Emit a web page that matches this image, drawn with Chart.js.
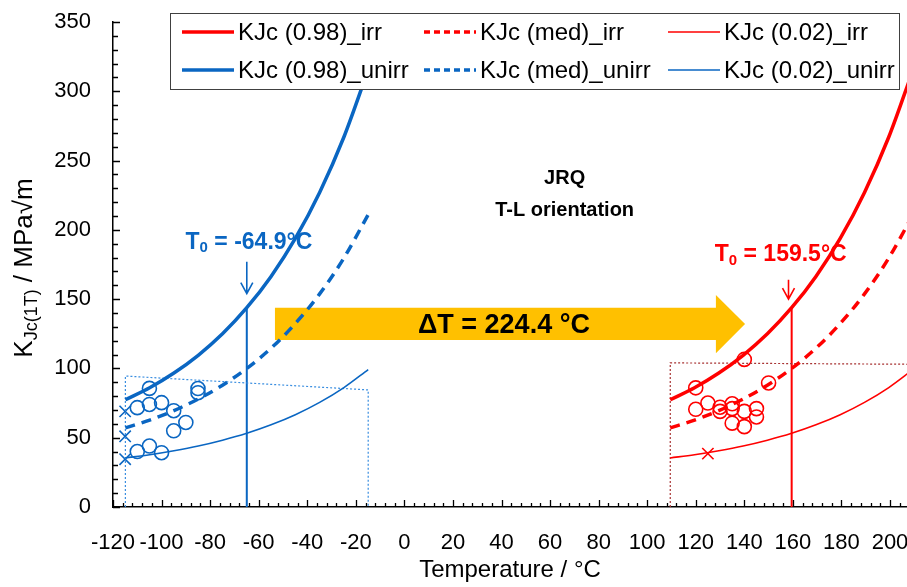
<!DOCTYPE html>
<html>
<head>
<meta charset="utf-8">
<script src="https://cdn.jsdelivr.net/npm/chart.js@4"></script>
<style>
  html, body { margin: 0; padding: 0; background: #fff; }
  #myChart { display: block; }
</style>
</head>
<body>
<canvas id="myChart" width="907" height="587"></canvas>
<script>
const CHART = document.getElementById('myChart');
const FONT = '"Liberation Sans", Arial, sans-serif';

// master curve points (T0 - 50 ... T0 + 50, every 10 °C)
const tempUnirr = [-114.9, -104.9, -94.9, -84.9, -74.9, -64.9, -54.9, -44.9, -34.9, -24.9, -14.9];
const tempIrr = [109.5, 119.5, 129.5, 139.5, 149.5, 159.5, 169.5, 179.5, 189.5, 199.5, 209.5];
const kjc098 = [77.4, 86.1, 96.7, 109.5, 125.0, 143.8, 166.4, 193.8, 227.0, 267.0, 315.5];
const kjcMed = [57.1, 62.7, 69.6, 77.9, 87.9, 100.0, 114.6, 132.4, 153.8, 179.7, 211.0];
const kjc002 = [35.4, 37.7, 40.6, 44.0, 48.2, 53.2, 59.3, 66.6, 75.5, 86.2, 99.2];

// test results
const unirrT = [-110, -110, -105, -105, -105, -100, -100, -95, -95, -90, -85, -85];
const unirrK = [71.7, 40, 85.6, 74, 44, 75.3, 39.2, 69.5, 55, 61, 85.5, 82.5];
const unirrCensT = [-115, -115, -115];
const unirrCensK = [69, 51, 34.5];
const irrT = [120, 120, 125, 130, 130, 135, 135, 135, 140, 140, 140, 145, 145, 150];
const irrK = [86, 70.5, 75, 72, 69, 74.5, 71, 60.5, 106.5, 69, 58, 71, 65, 89.5];
const irrCensT = [125];
const irrCensK = [38.5];

// validity windows
const unirrBoxT = [-114.9, -114.9, -14.9, -14.9];
const unirrBoxK = [0, 94.5, 84.5, 0];
const irrBoxT = [109.5, 109.5, 209.5, 209.5];
const irrBoxK = [0, 104, 103, 0];

const t0Unirr = -64.9;
const t0Irr = 159.5;
const kAtT0 = 143.8;

// axis tick labels
const xTickLabels = [-120, -100, -80, -60, -40, -20, 0, 20, 40, 60, 80, 100, 120, 140, 160, 180, 200];

const BLUE = '#0A66C2';
const RED = '#FF0000';

const pair = (xs, ys) => xs.map((x, i) => ({x: x, y: ys[i]}));

const curve = (label, xs, ys, color, width, dash) => ({
    label: label, type: 'line', data: pair(xs, ys),
    borderColor: color, borderWidth: width, borderDash: dash || [],
    pointRadius: 0, fill: false, cubicInterpolationMode: 'monotone'
});

const plain = (xs, ys, color, width, dash) => ({
    type: 'line', data: pair(xs, ys), borderColor: color, borderWidth: width,
    borderDash: dash || [], pointRadius: 0, fill: false, tension: 0
});

const marks = (xs, ys, color, style, r) => ({
    type: 'scatter', data: pair(xs, ys), borderColor: color, backgroundColor: 'rgba(0,0,0,0)',
    borderWidth: 1.6, pointStyle: style, pointRadius: r, pointHoverRadius: r
});

const subText = (ctx, x, y, parts) => {
    // parts: [text, size, weight, dy]
    let cx = x;
    parts.forEach(p => {
        ctx.font = p[2] + ' ' + p[1] + 'px ' + FONT;
        ctx.fillText(p[0], cx, y + p[3]);
        cx += ctx.measureText(p[0]).width;
    });
    return cx - x;
};

const measureParts = (ctx, parts) => parts.reduce((w, p) => {
    ctx.font = p[2] + ' ' + p[1] + 'px ' + FONT;
    return w + ctx.measureText(p[0]).width;
}, 0);

const downArrow = (ctx, px, y1, y2, color) => {
    ctx.strokeStyle = color;
    ctx.lineWidth = 1.6;
    ctx.beginPath();
    ctx.moveTo(px, y1); ctx.lineTo(px, y2);
    ctx.moveTo(px - 6, y2 - 11); ctx.lineTo(px, y2); ctx.lineTo(px + 6, y2 - 11);
    ctx.stroke();
};

const annotations = {
    id: 'annotations',
    beforeDatasetsDraw(chart) {
        const {ctx, scales: {x, y}} = chart;
        // big orange arrow
        const xl = x.getPixelForValue(-53.3), xh = x.getPixelForValue(128.3), xt = x.getPixelForValue(140.3);
        const bt = y.getPixelForValue(143.8), bb = y.getPixelForValue(120.5);
        const ht = y.getPixelForValue(153), hb = y.getPixelForValue(111);
        ctx.save();
        ctx.fillStyle = '#FFC000';
        ctx.beginPath();
        ctx.moveTo(xl, bt); ctx.lineTo(xh, bt); ctx.lineTo(xh, ht); ctx.lineTo(xt, (ht + hb) / 2);
        ctx.lineTo(xh, hb); ctx.lineTo(xh, bb); ctx.lineTo(xl, bb);
        ctx.closePath();
        ctx.fill();
        ctx.restore();
    },
    afterDatasetsDraw(chart) {
        const {ctx, chartArea: a, scales: {x, y}} = chart;
        ctx.save();
        ctx.textBaseline = 'middle';
        ctx.fillStyle = '#000';
        ctx.textAlign = 'center';
        ctx.font = 'bold 27px ' + FONT;
        ctx.fillText('\u0394T = 224.4 \u00B0C', x.getPixelForValue(41), y.getPixelForValue(131));
        ctx.font = 'bold 20px ' + FONT;
        ctx.fillText('JRQ', x.getPixelForValue(66), y.getPixelForValue(237));
        ctx.fillText('T-L orientation', x.getPixelForValue(66), y.getPixelForValue(214));

        ctx.textAlign = 'left';
        const t0Label = (val, color, cx, cy) => {
            const parts = [['T', 23, 'bold', 0], ['0', 15, 'bold', 6], [' = ' + val + '\u00B0C', 23, 'bold', 0]];
            const w = measureParts(ctx, parts);
            ctx.fillStyle = color;
            subText(ctx, x.getPixelForValue(cx) - w / 2, y.getPixelForValue(cy), parts);
        };
        t0Label('-64.9', BLUE, -64, 191);
        t0Label('159.5', RED, 155, 182);
        downArrow(ctx, x.getPixelForValue(-64.9), y.getPixelForValue(177), y.getPixelForValue(154), BLUE);
        downArrow(ctx, x.getPixelForValue(158.2), y.getPixelForValue(164), y.getPixelForValue(150), RED);

        // inward tick marks
        ctx.strokeStyle = '#000';
        ctx.lineWidth = 1.3;
        ctx.beginPath();
        for (let v = -120; v <= x.max; v += 4) {
            const px = Math.round(x.getPixelForValue(v)) + 0.5;
            const len = v % 20 === 0 ? 7 : 4;
            ctx.moveTo(px, a.bottom); ctx.lineTo(px, a.bottom - len);
        }
        for (let v = 0; v <= 350; v += 10) {
            const py = Math.round(y.getPixelForValue(v)) + 0.5;
            const len = v % 50 === 0 ? 7 : 5;
            ctx.moveTo(a.left, py); ctx.lineTo(a.left + len, py);
        }
        ctx.stroke();

        // x tick labels
        ctx.fillStyle = '#000';
        ctx.textAlign = 'center';
        ctx.textBaseline = 'middle';
        ctx.font = '22px ' + FONT;
        xTickLabels.forEach(v => ctx.fillText(String(v), x.getPixelForValue(v), a.bottom + 36));
        ctx.restore();
    },
    afterDraw(chart) {
        const {ctx} = chart;
        ctx.save();
        // y axis title with subscript
        ctx.translate(25, 268);
        ctx.rotate(-Math.PI / 2);
        ctx.fillStyle = '#000';
        ctx.textBaseline = 'middle';
        const yParts = [['K', 26, 'normal', 0], ['Jc(1T)', 18, 'normal', 7], [' / MPa\u221Am', 26, 'normal', 0]];
        subText(ctx, -measureParts(ctx, yParts) / 2, 0, yParts);
        ctx.restore();

        // legend box
        ctx.save();
        ctx.fillStyle = '#fff';
        ctx.strokeStyle = '#404040';
        ctx.lineWidth = 1;
        ctx.fillRect(170.5, 13.5, 729, 76);
        ctx.strokeRect(170.5, 13.5, 729, 76);
        const items = chart.data.datasets.filter(d => d.label);
        const cols = [182, 424, 668];
        const rows = [32, 70];
        ctx.font = '24px ' + FONT;
        ctx.textBaseline = 'middle';
        ctx.fillStyle = '#000';
        items.forEach((d, i) => {
            const cx = cols[i % 3], cy = rows[Math.floor(i / 3)];
            ctx.strokeStyle = d.borderColor;
            ctx.lineWidth = d.borderWidth;
            ctx.setLineDash(d.borderDash.length ? [6, 4] : []);
            ctx.beginPath();
            ctx.moveTo(cx, cy); ctx.lineTo(cx + 52, cy);
            ctx.stroke();
            ctx.setLineDash([]);
            ctx.fillText(d.label, cx + 56, cy + 1);
        });
        ctx.restore();
    }
};

new Chart(CHART, {
    data: {
        datasets: [
            curve('KJc (0.98)_irr', tempIrr, kjc098, RED, 3.5),
            curve('KJc (med)_irr', tempIrr, kjcMed, RED, 3.5, [10, 7]),
            curve('KJc (0.02)_irr', tempIrr, kjc002, RED, 1.6),
            curve('KJc (0.98)_unirr', tempUnirr, kjc098, BLUE, 3.5),
            curve('KJc (med)_unirr', tempUnirr, kjcMed, BLUE, 3.5, [10, 7]),
            curve('KJc (0.02)_unirr', tempUnirr, kjc002, BLUE, 1.6),
            plain(unirrBoxT, unirrBoxK, '#3A8EE0', 1.2, [2, 2]),
            plain(irrBoxT, irrBoxK, '#A83232', 1.2, [2, 2]),
            plain([t0Unirr, t0Unirr], [kAtT0, 0], BLUE, 2),
            plain([t0Irr, t0Irr], [kAtT0, 0], RED, 2),
            marks(unirrT, unirrK, BLUE, 'circle', 7),
            marks(unirrCensT, unirrCensK, BLUE, 'crossRot', 8),
            marks(irrT, irrK, RED, 'circle', 7),
            marks(irrCensT, irrCensK, RED, 'crossRot', 8)
        ]
    },
    options: {
        responsive: false,
        animation: false,
        layout: {autoPadding: false, padding: {top: 22, right: 0, left: 0, bottom: 0}},
        plugins: {legend: {display: false}, tooltip: {enabled: false}},
        scales: {
            x: {
                type: 'linear', min: -120, max: 207,
                ticks: {display: false, stepSize: 20},
                grid: {display: false, drawTicks: false},
                border: {color: '#000', width: 1.5},
                title: {display: true, text: 'Temperature / \u00B0C', color: '#000',
                        font: {size: 24, family: FONT}, padding: {top: 0, bottom: 2}},
                afterFit: s => { s.height = 80; }
            },
            y: {
                type: 'linear', min: 0, max: 350,
                ticks: {stepSize: 50, color: '#000', padding: 22, font: {size: 22, family: FONT}},
                grid: {display: false, drawTicks: false},
                border: {color: '#000', width: 1.5},
                afterFit: s => { s.width = 113; s.paddingTop = 0; s.paddingBottom = 0; }
            }
        }
    },
    plugins: [annotations]
});
</script>
</body>
</html>
